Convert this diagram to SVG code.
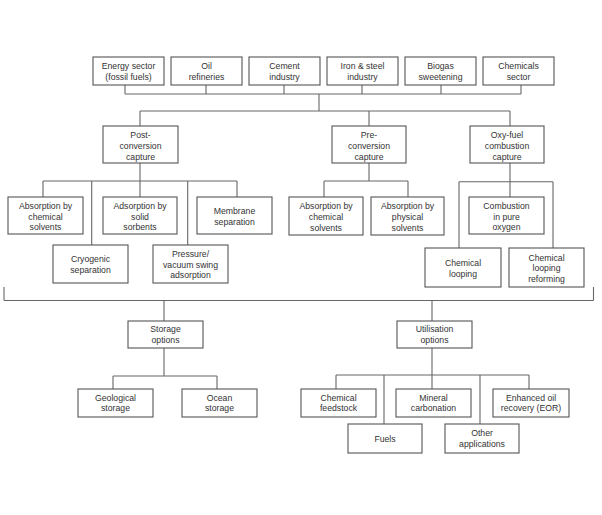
<svg xmlns="http://www.w3.org/2000/svg" width="602" height="515" viewBox="0 0 602 515">
<style>
.b{fill:#fff;stroke:#555;stroke-width:1.1}
.c{fill:none;stroke:#666;stroke-width:1.1}
text{font-family:"Liberation Sans",Arial,sans-serif;font-size:8.7px;fill:#333;text-anchor:middle}
</style>
<rect width="602" height="515" fill="#fff"/>
<g id="connectors" class="c">
<path d="M125 85V94M206 85V94M284 85V94M362 85V94M441 85V94M521 85V94M125 94H521M319 94V111M140 111H510M140 111V126M369 111V126M510 111V126"/>
<path d="M140 163V181M43 181H237M43 181V197M91.7 181V245M140 181V197M187.7 181V245M237 181V197"/>
<path d="M369 163V181M324 181H408M324 181V197M408 181V197"/>
<path d="M510 163V197M459 181.7H553M459 181.7V248M553 181.7V248"/>
<path d="M4 287V300.5M593.5 287V300.5M4 300.5H593.5"/>
<path d="M164 300.5V321M164 348V376M113 376H217M113 376V389M217 376V389"/>
<path d="M432 300.5V321M432 348V375M336 375H529M336 375V389M384 375V424M432 375V389M480 375V424M529 375V389"/>
</g>
<g id="energy"><rect class="b" x="93" y="57" width="71" height="28"/><text x="128.5" y="68.8">Energy sector<tspan x="128.5" dy="10.7">(fossil fuels)</tspan></text></g>
<g id="oil"><rect class="b" x="171" y="57" width="71" height="28"/><text x="206.5" y="68.8">Oil<tspan x="206.5" dy="10.7">refineries</tspan></text></g>
<g id="cement"><rect class="b" x="249" y="57" width="71" height="28"/><text x="284.5" y="68.8">Cement<tspan x="284.5" dy="10.7">industry</tspan></text></g>
<g id="iron"><rect class="b" x="327" y="57" width="71" height="28"/><text x="362.5" y="68.8">Iron &amp; steel<tspan x="362.5" dy="10.7">industry</tspan></text></g>
<g id="biogas"><rect class="b" x="405" y="57" width="71" height="28"/><text x="440.5" y="68.8">Biogas<tspan x="440.5" dy="10.7">sweetening</tspan></text></g>
<g id="chemicals"><rect class="b" x="483" y="57" width="71" height="28"/><text x="518.5" y="68.8">Chemicals<tspan x="518.5" dy="10.7">sector</tspan></text></g>
<g id="post"><rect class="b" x="103" y="126" width="75" height="37"/><text x="140.5" y="138">Post-<tspan x="140.5" dy="10.8">conversion</tspan><tspan x="140.5" dy="10.8">capture</tspan></text></g>
<g id="pre"><rect class="b" x="332" y="126" width="74" height="37"/><text x="369" y="138">Pre-<tspan x="369" dy="10.8">conversion</tspan><tspan x="369" dy="10.8">capture</tspan></text></g>
<g id="oxy"><rect class="b" x="470" y="126" width="74" height="37"/><text x="507" y="138">Oxy-fuel<tspan x="507" dy="10.8">combustion</tspan><tspan x="507" dy="10.8">capture</tspan></text></g>
<g id="abs-chem"><rect class="b" x="8" y="197" width="75" height="37"/><text x="45.5" y="208.8">Absorption by<tspan x="45.5" dy="10.8">chemical</tspan><tspan x="45.5" dy="10.8">solvents</tspan></text></g>
<g id="cryo"><rect class="b" x="53" y="245" width="75" height="38"/><text x="90.5" y="262">Cryogenic<tspan x="90.5" dy="10.8">separation</tspan></text></g>
<g id="ads"><rect class="b" x="103" y="197" width="74" height="37"/><text x="140" y="208.8">Adsorption by<tspan x="140" dy="10.8">solid</tspan><tspan x="140" dy="10.8">sorbents</tspan></text></g>
<g id="psa"><rect class="b" x="153" y="245" width="75" height="38"/><text x="190.5" y="256.8">Pressure/<tspan x="190.5" dy="10.8">vacuum swing</tspan><tspan x="190.5" dy="10.8">adsorption</tspan></text></g>
<g id="membrane"><rect class="b" x="197" y="197" width="75" height="37"/><text x="234.5" y="214">Membrane<tspan x="234.5" dy="10.8">separation</tspan></text></g>
<g id="pre-abs-chem"><rect class="b" x="289" y="197" width="74" height="38"/><text x="326" y="209">Absorption by<tspan x="326" dy="10.8">chemical</tspan><tspan x="326" dy="10.8">solvents</tspan></text></g>
<g id="pre-abs-phys"><rect class="b" x="371" y="197" width="73" height="38"/><text x="407.5" y="209">Absorption by<tspan x="407.5" dy="10.8">physical</tspan><tspan x="407.5" dy="10.8">solvents</tspan></text></g>
<g id="combustion"><rect class="b" x="469" y="197" width="75" height="37"/><text x="506.5" y="208.8">Combustion<tspan x="506.5" dy="10.8">in pure</tspan><tspan x="506.5" dy="10.8">oxygen</tspan></text></g>
<g id="looping"><rect class="b" x="425" y="248" width="76" height="39"/><text x="463" y="266">Chemical<tspan x="463" dy="10.8">looping</tspan></text></g>
<g id="clr"><rect class="b" x="509" y="248" width="75" height="39"/><text x="546.5" y="260.5">Chemical<tspan x="546.5" dy="10.8">looping</tspan><tspan x="546.5" dy="10.8">reforming</tspan></text></g>
<g id="storage"><rect class="b" x="128" y="321" width="75" height="27"/><text x="165.5" y="332">Storage<tspan x="165.5" dy="10.7">options</tspan></text></g>
<g id="geological"><rect class="b" x="78" y="389" width="75" height="28"/><text x="115.5" y="400.5">Geological<tspan x="115.5" dy="10.7">storage</tspan></text></g>
<g id="ocean"><rect class="b" x="182" y="389" width="75" height="28"/><text x="219.5" y="400.5">Ocean<tspan x="219.5" dy="10.7">storage</tspan></text></g>
<g id="utilisation"><rect class="b" x="397" y="321" width="75" height="27"/><text x="434.5" y="332">Utilisation<tspan x="434.5" dy="10.7">options</tspan></text></g>
<g id="feedstock"><rect class="b" x="301" y="389" width="75" height="28"/><text x="338.5" y="400.5">Chemical<tspan x="338.5" dy="10.7">feedstock</tspan></text></g>
<g id="fuels"><rect class="b" x="348" y="424" width="74" height="29"/><text x="385" y="441.5">Fuels</text></g>
<g id="mineral"><rect class="b" x="396" y="389" width="75" height="28"/><text x="433.5" y="400.5">Mineral<tspan x="433.5" dy="10.7">carbonation</tspan></text></g>
<g id="other"><rect class="b" x="445" y="424" width="74" height="29"/><text x="482" y="436">Other<tspan x="482" dy="10.7">applications</tspan></text></g>
<g id="eor"><rect class="b" x="493" y="389" width="76" height="28"/><text x="531" y="400.5">Enhanced oil<tspan x="531" dy="10.7">recovery (EOR)</tspan></text></g>
</svg>
